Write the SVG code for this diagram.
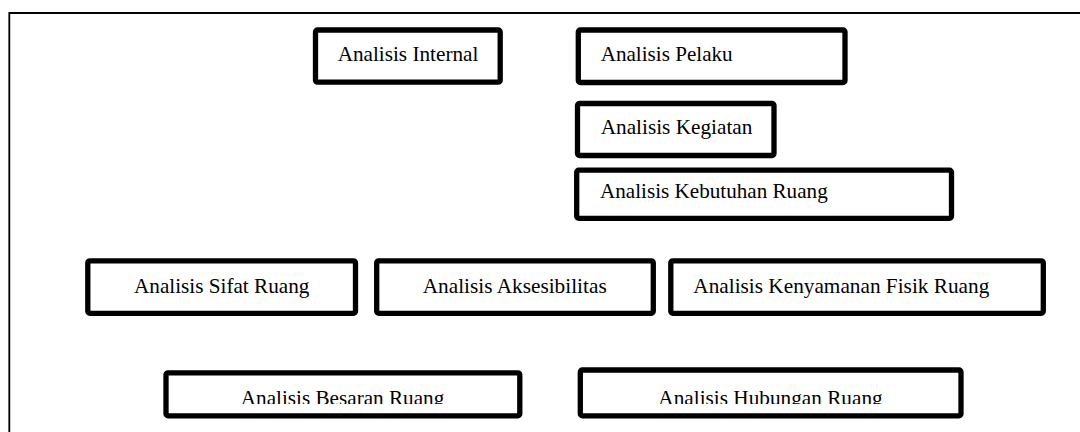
<svg xmlns="http://www.w3.org/2000/svg" width="1080" height="432" viewBox="0 0 1080 432">
  <style>
    .box { fill: #ffffff; stroke: #000000; stroke-width: 5.3; }
    .frame { fill: none; stroke: #000000; stroke-width: 1.8; }
  </style>
  <defs>
    <clipPath id="clipBesaran"><rect x="169" y="375" width="348" height="29"/></clipPath>
    <clipPath id="clipHubungan"><rect x="583" y="372" width="375" height="32"/></clipPath>
  </defs>
  <rect width="1080" height="432" fill="#ffffff"/>
  <path class="frame" d="M9.3 440 V13 H1090"/>
  <g id="connectors"></g>
  <g font-family="Liberation Serif, DejaVu Serif, serif" font-size="21" fill="#000000">
  <g id="node-internal">
    <rect class="box" x="315.5" y="30" width="184.7" height="52.2" rx="2"/>
    <text x="408" y="60.7" text-anchor="middle" textLength="140.7" lengthAdjust="spacingAndGlyphs">Analisis Internal</text>
  </g>
  <g id="node-pelaku">
    <rect class="box" x="578.3" y="30" width="266.7" height="52.5" rx="2"/>
    <text x="600.7" y="60.7" textLength="132" lengthAdjust="spacingAndGlyphs">Analisis Pelaku</text>
  </g>
  <g id="node-kegiatan">
    <rect class="box" x="577.5" y="103.5" width="196.5" height="52" rx="2"/>
    <text x="600.7" y="134.3" textLength="151.7" lengthAdjust="spacingAndGlyphs">Analisis Kegiatan</text>
  </g>
  <g id="node-kebutuhan">
    <rect class="box" x="576.7" y="170.2" width="374.8" height="48.1" rx="2"/>
    <text x="600" y="198.3" textLength="227.7" lengthAdjust="spacingAndGlyphs">Analisis Kebutuhan Ruang</text>
  </g>
  <g id="node-sifat">
    <rect class="box" x="87.8" y="260.8" width="267.7" height="52.5" rx="2"/>
    <text x="221.7" y="292.7" text-anchor="middle" textLength="175.3" lengthAdjust="spacingAndGlyphs">Analisis Sifat Ruang</text>
  </g>
  <g id="node-aksesibilitas">
    <rect class="box" x="376.7" y="260.8" width="276.6" height="52.5" rx="2"/>
    <text x="514.7" y="292.7" text-anchor="middle" textLength="184" lengthAdjust="spacingAndGlyphs">Analisis Aksesibilitas</text>
  </g>
  <g id="node-kenyamanan">
    <rect class="box" x="670.8" y="260.8" width="372.5" height="52.5" rx="2"/>
    <text x="693.3" y="292.7" textLength="296" lengthAdjust="spacingAndGlyphs">Analisis Kenyamanan Fisik Ruang</text>
  </g>
  <g id="node-besaran">
    <rect class="box" x="166" y="372.8" width="353.8" height="43" rx="2"/>
    <text x="342.5" y="404.5" text-anchor="middle" textLength="203.5" lengthAdjust="spacingAndGlyphs" clip-path="url(#clipBesaran)">Analisis Besaran Ruang</text>
  </g>
  <g id="node-hubungan">
    <rect class="box" x="580.3" y="370" width="380.7" height="45.8" rx="2"/>
    <text x="770.5" y="404.5" text-anchor="middle" textLength="224.3" lengthAdjust="spacingAndGlyphs" clip-path="url(#clipHubungan)">Analisis Hubungan Ruang</text>
  </g>
  </g>
</svg>
